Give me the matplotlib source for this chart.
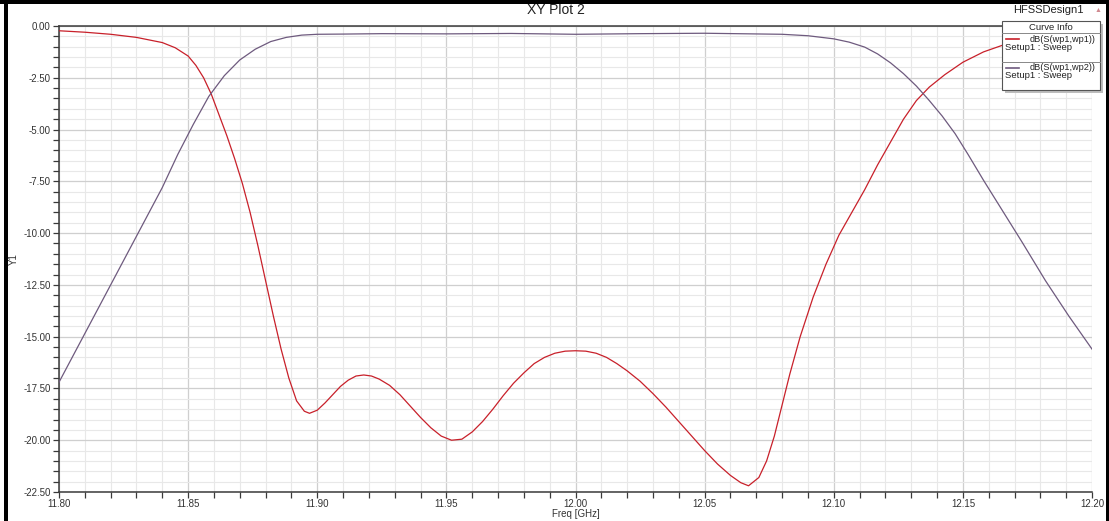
import matplotlib
matplotlib.use("Agg")
import matplotlib.pyplot as plt
from matplotlib.patches import Rectangle
from matplotlib.lines import Line2D
from matplotlib.ticker import MultipleLocator, FormatStrFormatter

plt.rcParams['font.family'] = ['Liberation Sans', 'DejaVu Sans']

# dB(S(wp1,wp1)) -- reflection
s11_freq = [11.800, 11.810, 11.820, 11.830, 11.840, 11.845, 11.850, 11.853, 11.856,
            11.859, 11.862, 11.865, 11.868, 11.871, 11.874, 11.877, 11.880, 11.883,
            11.886, 11.889, 11.892, 11.895, 11.897, 11.900, 11.903, 11.906, 11.909,
            11.912, 11.915, 11.918, 11.921, 11.924, 11.928, 11.932, 11.936, 11.940,
            11.944, 11.948, 11.952, 11.956, 11.960, 11.964, 11.968, 11.972, 11.976,
            11.980, 11.984, 11.988, 11.992, 11.996, 12.000, 12.004, 12.008, 12.012,
            12.016, 12.020, 12.025, 12.030, 12.035, 12.040, 12.045, 12.050, 12.055,
            12.060, 12.064, 12.067, 12.071, 12.074, 12.077, 12.080, 12.083, 12.087,
            12.092, 12.097, 12.102, 12.107, 12.112, 12.117, 12.122, 12.127, 12.132,
            12.137, 12.143, 12.150, 12.158, 12.166, 12.176, 12.188, 12.200]
s11_db = [-0.23, -0.30, -0.40, -0.55, -0.80, -1.05, -1.45, -1.90, -2.50,
          -3.30, -4.30, -5.30, -6.40, -7.60, -9.00, -10.6, -12.3, -14.0,
          -15.6, -17.0, -18.1, -18.6, -18.7, -18.55, -18.2, -17.8, -17.4,
          -17.1, -16.9, -16.85, -16.9, -17.05, -17.35, -17.8, -18.35, -18.9,
          -19.4, -19.8, -20.0, -19.95, -19.6, -19.1, -18.5, -17.85, -17.25,
          -16.75, -16.3, -16.0, -15.8, -15.7, -15.68, -15.7, -15.8, -16.0,
          -16.3, -16.65, -17.15, -17.75, -18.4, -19.1, -19.8, -20.5, -21.15,
          -21.7, -22.05, -22.2, -21.8, -21.0, -19.8, -18.3, -16.8, -15.0,
          -13.1, -11.5, -10.1, -9.0, -7.9, -6.7, -5.6, -4.5, -3.6,
          -2.95, -2.35, -1.75, -1.25, -0.90, -0.65, -0.50, -0.45]

# dB(S(wp1,wp2)) -- transmission
s21_freq = [11.800, 11.810, 11.820, 11.830, 11.840, 11.846, 11.852, 11.858, 11.864,
            11.870, 11.876, 11.882, 11.888, 11.894, 11.900, 11.910, 11.925, 11.950,
            11.975, 12.000, 12.025, 12.050, 12.080, 12.090, 12.100, 12.106, 12.112,
            12.117, 12.122, 12.127, 12.132, 12.137, 12.142, 12.147, 12.152, 12.158,
            12.165, 12.173, 12.182, 12.191, 12.200]
s21_db = [-17.2, -14.85, -12.5, -10.15, -7.80, -6.20, -4.75, -3.40, -2.40,
          -1.64, -1.12, -0.75, -0.55, -0.44, -0.40, -0.39, -0.37, -0.38,
          -0.36, -0.40, -0.37, -0.35, -0.40, -0.47, -0.62, -0.78, -1.02,
          -1.35, -1.78, -2.30, -2.90, -3.60, -4.35, -5.20, -6.20, -7.45,
          -8.85, -10.45, -12.3, -14.0, -15.6]

x_ticks = [11.80, 11.85, 11.90, 11.95, 12.00, 12.05, 12.10, 12.15, 12.20]
y_ticks = [0.0, -2.5, -5.0, -7.5, -10.0, -12.5, -15.0, -17.5, -20.0, -22.5]

series_names = ["dB(S(wp1,wp1))", "dB(S(wp1,wp2))"]
sweep_name = "Setup1 : Sweep"
RED = "#c8202a"
PURPLE = "#6e5a7e"

W, H = 1109, 521
fig = plt.figure(figsize=(W / 100, H / 100), dpi=100)
fig.patch.set_facecolor("white")


def fx(x):
    return x / W


def fy(y):
    return 1 - y / H


left, right, top, bottom = 59, 1092, 26, 492
ax = fig.add_axes([fx(left), fy(bottom), fx(right) - fx(left), fy(top) - fy(bottom)])

ax.plot(s11_freq, s11_db, color=RED, lw=0.9, zorder=3)
ax.plot(s21_freq, s21_db, color=PURPLE, lw=0.9, zorder=3)

ax.set_xlim(11.80, 12.20)
ax.set_ylim(-22.5, 0.0)
ax.set_xticks(x_ticks)
ax.set_yticks(y_ticks)
ax.xaxis.set_minor_locator(MultipleLocator(0.01))
ax.yaxis.set_minor_locator(MultipleLocator(0.5))
ax.xaxis.set_major_formatter(FormatStrFormatter("%.2f"))
ax.yaxis.set_major_formatter(FormatStrFormatter("%.2f"))

ax.grid(which="major", color="#cfcfcf", lw=0.9, zorder=0)
ax.grid(which="minor", color="#e8e8e8", lw=0.8, zorder=0)
ax.set_axisbelow(True)

for side in ("left", "bottom", "top"):
    ax.spines[side].set_color("#3a3a3a")
    ax.spines[side].set_linewidth(1.1)
ax.spines["right"].set_visible(False)

ax.tick_params(which="both", direction="out", length=4, width=0.9, color="#3a3a3a",
               labelsize=7, labelcolor="#333333", pad=2)
ax.tick_params(axis="x", which="major", pad=1)

ax.set_xlabel("Freq [GHz]", fontsize=7, color="#333333", labelpad=0)
ax.set_ylabel("Y1", fontsize=7, color="#333333")
ax.yaxis.set_label_coords((19 - left) / (right - left), 0.5)

# title and project name
fig.text(fx(556), fy(10), "XY Plot 2", ha="center", va="center", fontsize=10, color="#222222")
fig.text(fx(1048), fy(10), "HFSSDesign1", ha="center", va="center", fontsize=8, color="#222222")
fig.text(fx(1098), fy(10), "\u25b2", ha="center", va="center", fontsize=5, color="#d08a90")

# curve info box with drop shadow
bx0, by0, bx1, by1 = 1002, 21, 1100, 90
fig.add_artist(Rectangle((fx(bx0 + 3), fy(by1 + 3)), fx(bx1 - bx0), fy(by0) - fy(by1),
                         transform=fig.transFigure, facecolor="#bdbdbd", edgecolor="none", zorder=5))
fig.add_artist(Rectangle((fx(bx0), fy(by1)), fx(bx1 - bx0), fy(by0) - fy(by1),
                         transform=fig.transFigure, facecolor="white", edgecolor="#555555",
                         lw=0.8, zorder=6))
fig.text(fx((bx0 + bx1) / 2), fy(27), "Curve Info", ha="center", va="center",
         fontsize=6.8, color="#222222", zorder=7)
for yy in (33, 62):
    fig.add_artist(Line2D([fx(bx0), fx(bx1)], [fy(yy), fy(yy)], transform=fig.transFigure,
                          color="#888888", lw=0.7, zorder=7))

for name, col, y0 in zip(series_names, [RED, PURPLE], [39, 68]):
    fig.add_artist(Line2D([fx(1006), fx(1019)], [fy(y0), fy(y0)], transform=fig.transFigure,
                          color=col, lw=1.2, zorder=7))
    fig.text(fx(1095), fy(y0), name, ha="right", va="center", fontsize=6.6,
             color="#222222", zorder=7)
    fig.text(fx(1005), fy(y0 + 8), sweep_name, ha="left", va="center", fontsize=6.8,
             color="#222222", zorder=7)

# black window frame: left, top and right bands
for (x0, y0, w, h) in [(4, 0, 4, H), (0, 0, W, 4), (W - 3, 0, 3, H)]:
    fig.add_artist(Rectangle((fx(x0), fy(y0 + h)), fx(w), fy(y0) - fy(y0 + h),
                             transform=fig.transFigure, facecolor="black",
                             edgecolor="none", zorder=10))

fig.savefig("out.png", dpi=100)
